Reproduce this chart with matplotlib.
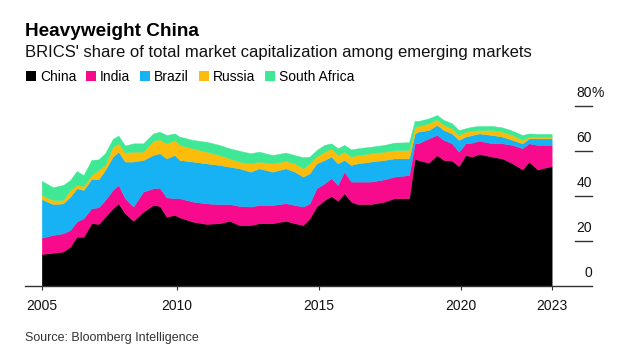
import matplotlib
matplotlib.use("Agg")
import matplotlib.pyplot as plt
from matplotlib.patches import Patch
from matplotlib.transforms import blended_transform_factory, offset_copy

plt.rcParams['font.family'] = ['Liberation Sans', 'DejaVu Sans']

# -----------------------------
# Data (share of EM market cap, %)
# -----------------------------
years = [2005.25, 2005.65, 2006.0, 2006.25, 2006.48, 2006.72, 2007.0, 2007.25,
         2007.48, 2007.75, 2007.95, 2008.18, 2008.47, 2008.82, 2009.17, 2009.4,
         2009.64, 2009.93, 2010.1, 2010.57, 2011.04, 2011.5, 2011.86, 2012.2,
         2012.6, 2012.9, 2013.37, 2013.84, 2014.15, 2014.45, 2014.68, 2014.92,
         2015.2, 2015.44, 2015.67, 2015.9, 2016.14, 2016.37, 2016.84, 2017.31,
         2017.66, 2018.18, 2018.38, 2018.5, 2018.87, 2019.16, 2019.4, 2019.69,
         2019.93, 2020.17, 2020.4, 2020.64, 2021.11, 2021.46, 2021.82, 2022.17,
         2022.4, 2022.7, 2023.2]

china = [14.2, 14.8, 15.3, 17.5, 21.9, 21.9, 27.9, 27.6,
         30.8, 34.5, 36.7, 32.3, 29.0, 33.0, 36.0, 35.6,
         30.8, 31.6, 30.5, 28.6, 27.6, 27.9, 29.0, 27.1,
         27.1, 27.9, 27.9, 29.0, 27.9, 27.1, 30.1, 35.3,
         38.2, 40.0, 37.9, 41.2, 37.5, 36.4, 36.4, 37.5,
         39.0, 39.0, 56.7, 56.0, 54.8, 58.2, 56.0, 55.7,
         53.3, 58.2, 57.5, 58.7, 57.5, 56.7, 54.5, 51.8,
         55.3, 51.8, 53.3]

india = [7.3, 7.9, 8.1, 7.4, 6.7, 8.2, 6.6, 7.4,
         7.4, 8.2, 8.2, 6.7, 6.3, 8.9, 7.4, 8.1,
         8.6, 7.4, 8.5, 8.9, 9.1, 8.5, 7.4, 8.5,
         8.2, 8.1, 8.1, 7.8, 8.1, 8.2, 6.6, 8.1,
         7.4, 7.9, 7.0, 9.6, 8.9, 10.0, 10.0, 9.9,
         9.6, 10.3, 6.7, 7.4, 10.8, 8.9, 8.9, 7.7,
         6.4, 5.2, 6.2, 5.9, 5.9, 6.7, 8.2, 9.4,
         8.1, 10.9, 9.4]

brazil = [17.0, 13.7, 13.3, 14.8, 14.8, 12.6, 13.1, 12.4,
          13.4, 14.8, 14.8, 16.3, 20.0, 14.1, 14.8, 15.3,
          17.3, 19.2, 17.0, 17.8, 17.8, 17.4, 16.6, 16.7,
          15.5, 16.3, 14.8, 15.5, 14.8, 13.3, 13.4, 11.1,
          10.4, 9.6, 9.6, 5.2, 7.4, 8.1, 8.9, 8.6,
          8.1, 7.4, 4.4, 5.2, 3.7, 4.5, 4.4, 4.4,
          5.2, 3.0, 3.4, 3.2, 3.7, 3.0, 2.2, 2.2,
          2.2, 2.9, 2.9]

russia = [1.9, 1.8, 1.5, 3.0, 1.5, 1.7, 1.7, 4.2,
          2.2, 4.4, 3.7, 4.0, 4.4, 3.7, 6.4, 6.2,
          6.7, 6.7, 6.7, 5.9, 5.2, 4.4, 3.7, 3.0,
          3.7, 3.0, 3.7, 3.3, 3.7, 3.7, 4.4, 3.0,
          3.7, 3.7, 3.7, 3.7, 3.7, 3.7, 3.7, 3.7,
          3.7, 3.7, 3.0, 2.5, 3.0, 2.5, 2.3, 2.3,
          2.2, 2.2, 1.9, 1.5, 2.2, 2.2, 2.2, 1.5,
          0.8, 0.8, 0.8]

south_africa = [6.3, 5.7, 6.7, 4.4, 6.2, 4.9, 6.7, 4.7,
                5.2, 3.5, 3.4, 3.1, 3.7, 3.7, 3.2, 3.4,
                3.7, 2.9, 3.7, 3.7, 4.4, 4.5, 4.5, 4.8,
                4.5, 4.4, 3.7, 3.7, 3.7, 4.9, 3.0, 2.9,
                3.0, 2.2, 3.0, 3.0, 3.2, 3.0, 2.9, 3.0,
                3.3, 3.5, 2.7, 2.2, 2.2, 1.9, 2.2, 2.2,
                2.2, 1.5, 1.8, 1.8, 1.8, 1.9, 1.9, 2.2,
                1.4, 1.2, 1.2]

names = ["China", "India", "Brazil", "Russia", "South Africa"]
colors = ["#000000", "#f70a8c", "#17b2f4", "#fcbc0c", "#3ee894"]

x_ticks = [2005.25, 2010, 2015, 2020, 2023.2]
x_labels = ["2005", "2010", "2015", "2020", "2023"]
y_ticks = [0, 20, 40, 60, 80]
y_labels = ["0", "20", "40", "60", "80"]

# -----------------------------
# Figure
# -----------------------------
W, H = 626, 364
fig = plt.figure(figsize=(W / 100, H / 100), dpi=100)
ax = fig.add_axes([25 / W, 1 - 286 / H, (592 - 25) / W, (286 - 106) / H])

polys = ax.stackplot(years, china, india, brazil, russia, south_africa,
                     colors=colors, linewidth=0)
for p in polys:
    p.set_edgecolor(p.get_facecolor())
    p.set_linewidth(0.3)

ax.set_xlim(2004.66, 2024.62)
ax.set_ylim(0, 80)

for side in ["top", "left", "right"]:
    ax.spines[side].set_visible(False)
ax.spines["bottom"].set_color("#333333")
ax.spines["bottom"].set_linewidth(1.0)

ax.set_xticks(x_ticks)
ax.set_xticklabels(x_labels)
ax.tick_params(axis="x", length=3, width=0.8, color="#333333", pad=6,
               labelsize=10, labelcolor="#111111")
ax.set_yticks([])

# right-hand value ticks: short line with label sitting above it
trans = blended_transform_factory(ax.transAxes, ax.transData)
lab_trans = offset_copy(trans, fig=fig, x=0, y=12.7 * 0.72, units="points")
for v, lab in zip(y_ticks, y_labels):
    if v > 0:
        ax.plot([0.97, 1.0], [v, v], transform=trans, color="#333333",
                lw=1.0, clip_on=False)
    ax.text(1.0, v, lab, transform=lab_trans, ha="right", va="center",
            fontsize=10, color="#111111")
    if v == 80:
        ax.text(1.0, v, "%", transform=lab_trans, ha="left", va="center",
                fontsize=10, color="#111111")

# -----------------------------
# Titles, legend, source
# -----------------------------
fig.text(25 / W, 1 - 36.5 / H, "Heavyweight China", fontsize=13.7,
         fontweight="bold", ha="left", va="baseline", color="#000000")
fig.text(25 / W, 1 - 57.5 / H,
         "BRICS' share of total market capitalization among emerging markets",
         fontsize=12, ha="left", va="baseline", color="#111111")

handles = [Patch(facecolor=c, edgecolor="none") for c in colors]
fig.legend(handles, names, loc="center left",
           bbox_to_anchor=(26 / W, 1 - 77 / H), ncol=5, frameon=False,
           fontsize=10, handlelength=0.72, handleheight=0.72,
           handletextpad=0.28, columnspacing=0.72, borderpad=0,
           borderaxespad=0)

fig.text(25 / W, 1 - 337.5 / H, "Source: Bloomberg Intelligence",
         fontsize=9, ha="left", va="center", color="#333333")

fig.savefig("out.png", dpi=100)
